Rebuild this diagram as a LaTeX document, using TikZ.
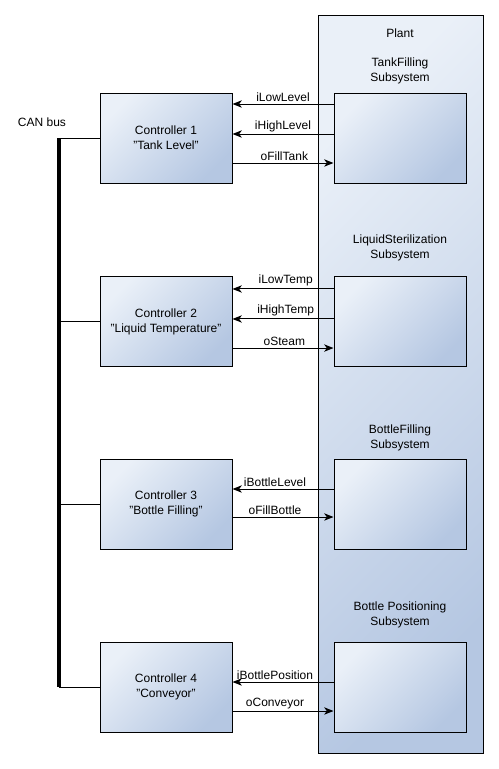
\documentclass[tikz,border=0pt]{standalone}
\usepackage{fontspec}
\setmainfont{Liberation Sans}
\usetikzlibrary{arrows.meta}
\definecolor{shadelight}{HTML}{EAF0F8}
\definecolor{shadedark}{HTML}{B5C7E2}
\begin{document}
\begin{tikzpicture}[x=0.75pt,y=-0.75pt,
        font=\fontsize{9}{11.25}\selectfont,
        block/.style={draw,line width=0.75pt,top color=shadelight,bottom color=shadedark,shading angle=45},
        ctrlbox/.style={block,minimum width=99pt,minimum height=67.5pt,align=center,inner sep=0pt},
        subbox/.style={block,minimum width=99pt,minimum height=67.5pt},
        plantbox/.style={block,minimum width=123.75pt,minimum height=553.5pt},
        title/.style={align=center,inner sep=0pt},
        sig/.style={line width=0.75pt,-{Stealth[length=7pt,width=5.5pt,inset=2pt]}},
        lbl/.style={midway,above,inner sep=1.5pt},
        link/.style={line width=0.75pt},
        bus/.style={line width=3pt}]
    \useasboundingbox (0,0) rectangle (499,769);
    % plant and its subsystems
    \node [plantbox] (plant) at (400.5,384) {};
    \node [title] (plantname) at (400,33) {Plant};
    \node [title] (title1) at (400,70.5) {TankFilling\\Subsystem};
    \node [title] (title2) at (400,247.5) {LiquidSterilization\\Subsystem};
    \node [title] (title3) at (400,437.5) {BottleFilling\\Subsystem};
    \node [title] (title4) at (400,614.5) {Bottle Positioning\\Subsystem};
    \node [subbox] (sub1) at (400,138) {};
    \node [subbox] (sub2) at (400,321.5) {};
    \node [subbox] (sub3) at (400,504) {};
    \node [subbox] (sub4) at (400,687) {};
    % controllers
    \node [ctrlbox] (ctrl1) at (166,138) {Controller 1\\"Tank Level"};
    \node [ctrlbox] (ctrl2) at (166,321.5) {Controller 2\\"Liquid Temperature"};
    \node [ctrlbox] (ctrl3) at (166,504) {Controller 3\\"Bottle Filling"};
    \node [ctrlbox] (ctrl4) at (166,687) {Controller 4\\"Conveyor"};
    % signals
    \draw [sig] ([yshift=25.5pt]sub1.west) -- ([yshift=25.5pt]ctrl1.east) node [lbl] {iLowLevel};
    \draw [sig] ([yshift=3pt]sub1.west) -- ([yshift=3pt]ctrl1.east) node [lbl] {iHighLevel};
    \draw [sig] ([yshift=-18.75pt]ctrl1.east) -- ([yshift=-18.75pt]sub1.west) node [lbl,xshift=1pt] {oFillTank};
    \draw [sig] ([yshift=24.4pt]sub2.west) -- ([yshift=24.4pt]ctrl2.east) node [lbl,xshift=2pt] {iLowTemp};
    \draw [sig] ([yshift=1.9pt]sub2.west) -- ([yshift=1.9pt]ctrl2.east) node [lbl,xshift=2pt] {iHighTemp};
    \draw [sig] ([yshift=-19.9pt]ctrl2.east) -- ([yshift=-19.9pt]sub2.west) node [lbl,xshift=1pt] {oSteam};
    \draw [sig] ([yshift=11.25pt]sub3.west) -- ([yshift=11.25pt]ctrl3.east) node [lbl,xshift=-6pt] {iBottleLevel};
    \draw [sig] ([yshift=-9.75pt]ctrl3.east) -- ([yshift=-9.75pt]sub3.west) node [lbl,xshift=-6pt] {oFillBottle};
    \draw [sig] ([yshift=3.75pt]sub4.west) -- ([yshift=3.75pt]ctrl4.east) node [lbl,xshift=-6pt] {iBottlePosition};
    \draw [sig] ([yshift=-18pt]ctrl4.east) -- ([yshift=-18pt]sub4.west) node [lbl,xshift=-6pt] {oConveyor};
    % CAN bus
    \node (canlabel) at (42,122) {CAN bus};
    \coordinate (busTop) at (59,138);
    \draw [bus] (busTop) -- (busTop |- ctrl4.west);
    \draw [link] (ctrl1.west) -- (ctrl1.west -| busTop);
    \draw [link] (ctrl2.west) -- (ctrl2.west -| busTop);
    \draw [link] (ctrl3.west) -- (ctrl3.west -| busTop);
    \draw [link] (ctrl4.west) -- (ctrl4.west -| busTop);
\end{tikzpicture}
\end{document}
